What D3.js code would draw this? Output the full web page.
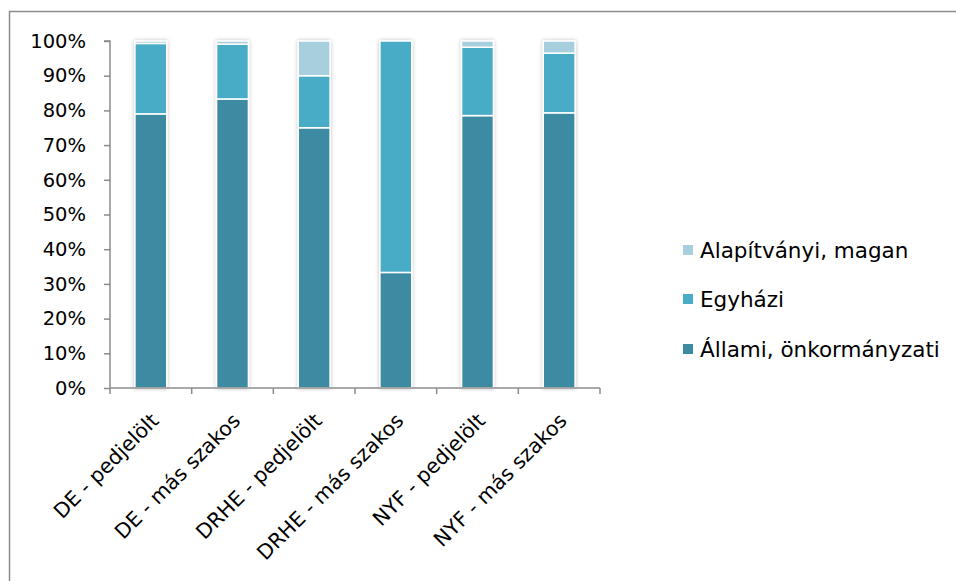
<!DOCTYPE html>
<html>
<head>
<meta charset="utf-8">
<script src="https://cdn.jsdelivr.net/npm/d3@7"></script>
<style>
  html, body { margin: 0; padding: 0; background: #fff; }
  svg { display: block; }
  text { font-family: "DejaVu Sans", "Open Sans", sans-serif; fill: #000; }
</style>
</head>
<body>
<svg id="chart" width="956" height="581"></svg>
<script>
// Categories (institution - student group)
const categories = ["DE - pedjelölt", "DE - más szakos", "DRHE - pedjelölt", "DRHE - más szakos", "NYF - pedjelölt", "NYF - más szakos"];
// Series shares in percent, stacked bottom to top
const allami = [79.0, 83.3, 75.0, 33.3, 78.5, 79.3];
const egyhazi = [20.3, 15.8, 15.0, 66.7, 19.7, 17.2];
const alapitvanyi = [0.7, 0.9, 10.0, 0.0, 1.8, 3.5];
const seriesNames = ["Állami, önkormányzati", "Egyházi", "Alapítványi, magan"];
const seriesColors = ["#3c8ba3", "#4aacc6", "#a8cfdd"];
const yTicks = [0, 10, 20, 30, 40, 50, 60, 70, 80, 90, 100];

const FONT_FAMILY = "'DejaVu Sans', 'Open Sans', sans-serif";
const svg = d3.select("#chart");

// Outer chart frame
svg.append("path")
  .attr("d", "M9.5,590 V11.5 H970")
  .attr("fill", "none").attr("stroke", "#8c8c8c").attr("stroke-width", 1.5);

const plot = { left: 110, right: 600, top: 41, bottom: 388 };

const x = d3.scaleBand().domain(categories).range([plot.left, plot.right]).paddingInner(0.61).paddingOuter(0.305);
const y = d3.scaleLinear().domain([0, 100]).range([plot.bottom, plot.top]);

const rows = categories.map((c, i) => ({ cat: c, s0: allami[i], s1: egyhazi[i], s2: alapitvanyi[i] }));
const stack = d3.stack().keys(["s0", "s1", "s2"]);
const layers = stack(rows);

// Soft shadow behind the bars
const defs = svg.append("defs");
const f = defs.append("filter").attr("id", "shadow").attr("x", "-30%").attr("y", "-5%").attr("width", "160%").attr("height", "110%");
f.append("feGaussianBlur").attr("in", "SourceAlpha").attr("stdDeviation", 2).attr("result", "b");
f.append("feComponentTransfer").attr("in", "b").attr("result", "b2")
  .append("feFuncA").attr("type", "linear").attr("slope", 0.25);
const m = f.append("feMerge");
m.append("feMergeNode").attr("in", "b2");
m.append("feMergeNode").attr("in", "SourceGraphic");

const barG = svg.append("g").attr("filter", "url(#shadow)");
layers.forEach((layer, li) => {
  barG.selectAll(null).data(layer.filter(d => d[1] - d[0] > 0)).enter().append("rect")
    .attr("x", d => x(d.data.cat))
    .attr("width", x.bandwidth())
    .attr("y", d => y(d[1]))
    .attr("height", d => y(d[0]) - y(d[1]))
    .attr("fill", seriesColors[li])
    .attr("stroke", "#fff").attr("stroke-width", 1.5);
});

// Y axis
const yAxis = d3.axisLeft(y).tickValues(yTicks).tickFormat(d => d + "%").tickSize(6).tickPadding(18);
const yg = svg.append("g").attr("transform", `translate(${plot.left},0)`).call(yAxis);
yg.select(".domain").attr("stroke", "#8c8c8c").attr("stroke-width", 1.5).attr("d", `M-6,${plot.top}H0V${plot.bottom}`);
yg.selectAll(".tick line").attr("stroke", "#8c8c8c").attr("stroke-width", 1.5);
yg.selectAll(".tick text").attr("font-size", 19.5).style("font-family", FONT_FAMILY);

// X axis with boundary ticks between categories
const step = x.step();
const bounds = d3.range(categories.length + 1).map(i => plot.left + i * step);
const xg = svg.append("g");
xg.append("line").attr("x1", plot.left).attr("x2", plot.right).attr("y1", plot.bottom).attr("y2", plot.bottom)
  .attr("stroke", "#8c8c8c").attr("stroke-width", 1.5);
xg.selectAll(null).data(bounds).enter().append("line")
  .attr("x1", d => d).attr("x2", d => d).attr("y1", plot.bottom).attr("y2", plot.bottom + 6)
  .attr("stroke", "#8c8c8c").attr("stroke-width", 1.5);
xg.selectAll(null).data(categories).enter().append("text")
  .attr("transform", d => `translate(${x(d) + x.bandwidth() / 2 + 9},${plot.bottom + 34}) rotate(-45)`)
  .attr("text-anchor", "end")
  .attr("font-size", 20.5)
  .text(d => d);

// Legend
const legend = svg.append("g");
const legendY = [250, 299, 349];
const order = [2, 1, 0];
order.forEach((si, k) => {
  const g = legend.append("g").attr("transform", `translate(683,${legendY[k]})`);
  g.append("rect").attr("x", 0).attr("y", -5).attr("width", 10).attr("height", 10).attr("fill", seriesColors[si]);
  g.append("text").attr("x", 17).attr("y", 0).attr("dy", "0.36em").attr("font-size", 21.5).text(seriesNames[si]);
});
</script>
</body>
</html>
